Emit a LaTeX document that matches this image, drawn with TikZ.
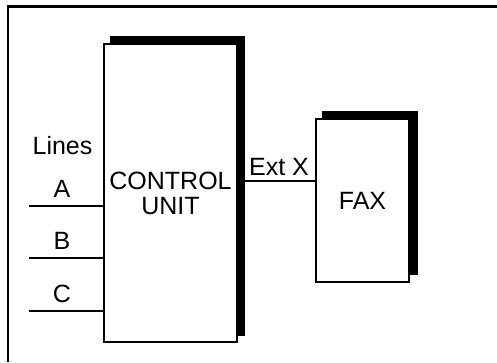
\documentclass[tikz,border=0pt]{standalone}
\usepackage{fontspec}
\setmainfont{Liberation Sans}
\begin{document}
\begin{tikzpicture}[x=1pt,y=-1pt,
  lbl/.style={font=\fontsize{25}{25}\selectfont, inner sep=0pt, anchor=base},
  shadowbox/.style={fill=black, draw=none, inner sep=0pt},
  unitbox/.style={draw=black, fill=white, line width=2pt, inner sep=0pt, align=center, font=\fontsize{25}{25}\selectfont},
  wire/.style={line width=2pt}
]
\useasboundingbox (0,0) rectangle (497,362);
% outer frame (top and left edges)
\draw[line width=2.5pt] (8,362) -- (8,6.5) -- (497,6.5);
% control unit
\node[shadowbox, minimum width=135pt, minimum height=300pt] (cush) at (177.5,186) {};
\node[unitbox, minimum width=133pt, minimum height=298pt] (cu) at (170.5,193) {CONTROL\\UNIT};
% fax
\node[shadowbox, minimum width=96pt, minimum height=164pt] (faxsh) at (370,193) {};
\node[unitbox, minimum width=93pt, minimum height=163pt] (fax) at (362.5,200.5) {FAX};
% lines
\node[lbl] (lines) at (62.5,154) {Lines};
\coordinate (la) at (29,206);
\coordinate (lb) at (29,258);
\coordinate (lc) at (29,311);
\draw[wire] (la) -- (la -| cu.west);
\draw[wire] (lb) -- (lb -| cu.west);
\draw[wire] (lc) -- (lc -| cu.west);
\node[lbl] (ta) at (62,197) {A};
\node[lbl] (tb) at (62,249) {B};
\node[lbl] (tc) at (62,302) {C};
% ext x
\coordinate (ex) at (245,181);
\draw[wire] (ex) -- (ex -| fax.west);
\node[lbl] (extx) at (279,175) {Ext X};
\end{tikzpicture}
\end{document}
